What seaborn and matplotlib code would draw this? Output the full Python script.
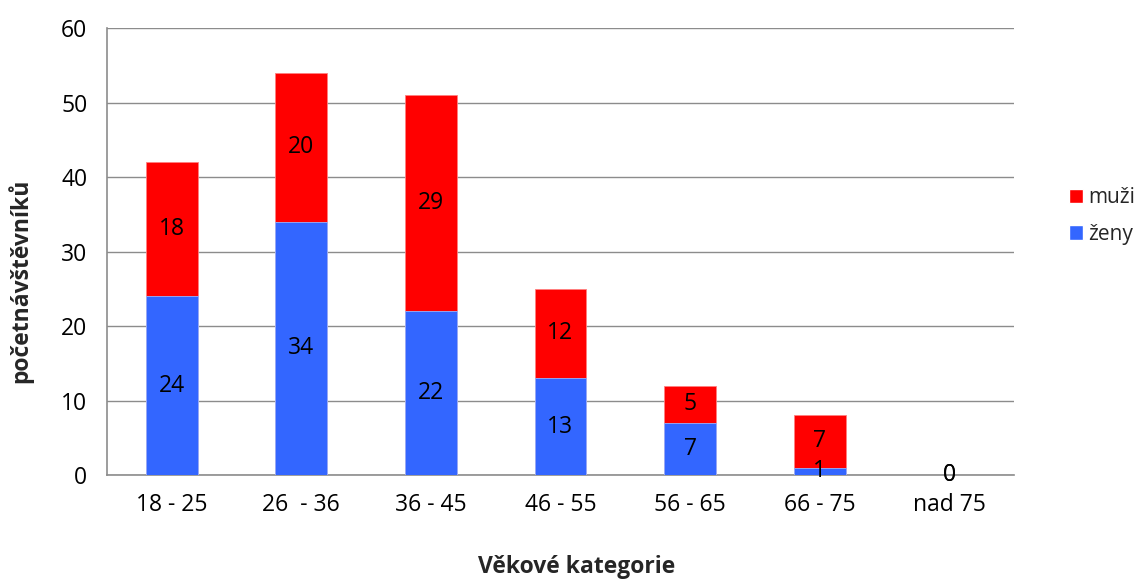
import matplotlib
matplotlib.use("Agg")
import matplotlib.pyplot as plt
import seaborn as sns
import pandas as pd
import numpy as np
from matplotlib.patches import Patch

categories = ["18 - 25", "26  - 36", "36 - 45", "46 - 55", "56 - 65", "66 - 75", "nad 75"]
zeny = [24, 34, 22, 13, 7, 1, 0]
muzi = [18, 20, 29, 12, 5, 7, 0]

sns.set_theme(style="white")
plt.rcParams['font.family'] = ['Open Sans', 'DejaVu Sans']

RED = "#ff0000"
BLUE = "#3366ff"
GRID = "#8c8c8c"
FS = 16.5

df = pd.DataFrame({"cat": categories, "zeny": zeny, "muzi": muzi})
df["total"] = df["zeny"] + df["muzi"]

fig = plt.figure(figsize=(11.45, 5.81), dpi=100)
ax = fig.add_axes([0.0934, 0.1824, 0.7922, 0.7694])

sns.barplot(data=df, x="cat", y="total", color=RED, width=0.4, ax=ax,
            saturation=1, edgecolor="#ff8080", linewidth=0.6, zorder=3)
sns.barplot(data=df, x="cat", y="zeny", color=BLUE, width=0.4, ax=ax,
            saturation=1, edgecolor="#99b3ff", linewidth=0.6, zorder=3)

for i, (z, m) in enumerate(zip(zeny, muzi)):
    ax.text(i, z / 2, str(z), ha="center", va="center", fontsize=FS, color="black", zorder=5)
    ax.text(i, z + m / 2, str(m), ha="center", va="center", fontsize=FS, color="black", zorder=5)

ax.set_xlim(-0.5, 6.5)
ax.set_ylim(0, 60)
ax.set_yticks(range(0, 61, 10))
ax.yaxis.grid(True, color=GRID, linewidth=1)
ax.set_axisbelow(True)

for s in ["top", "right"]:
    ax.spines[s].set_visible(False)
for s in ["left", "bottom"]:
    ax.spines[s].set_color(GRID)
    ax.spines[s].set_linewidth(1.2)

ax.set_xticks(np.arange(-0.5, 7, 1), minor=True)
ax.tick_params(axis="x", which="major", length=0, pad=13, labelsize=FS)
ax.tick_params(axis="x", which="minor", length=6, color=GRID, width=1.2, direction="out")
ax.tick_params(axis="y", length=6, color=GRID, width=1.2, direction="out", labelsize=FS, pad=8)
ax.tick_params(axis="both", which="major", labelcolor="black")

ax.set_xlabel("Věkové kategorie", fontsize=FS, fontweight="bold")
ax.xaxis.set_label_coords(0.518, -0.178)
ax.set_ylabel("početnávštěvníků", fontsize=FS, fontweight="bold")
ax.yaxis.set_label_coords(-0.0816, 0.434)

handles = [Patch(facecolor=RED, label="muži"), Patch(facecolor=BLUE, label="ženy")]
fig.legend(handles=handles, loc="center left", bbox_to_anchor=(0.9335, 0.628),
           frameon=False, fontsize=15, handlelength=0.68, handleheight=0.68,
           handletextpad=0.25, labelspacing=0.75, borderaxespad=0, borderpad=0)

fig.savefig("out.png", dpi=100)
